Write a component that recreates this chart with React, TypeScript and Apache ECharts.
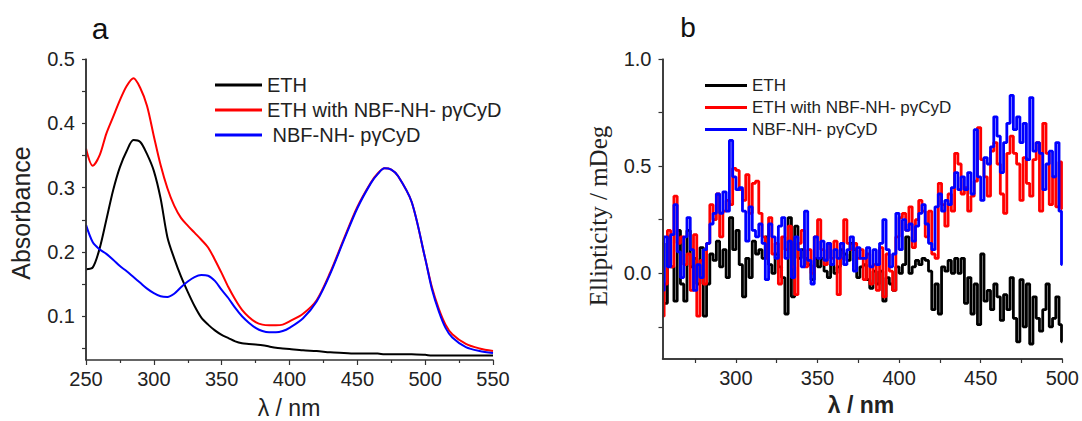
import React, { useEffect, useRef } from "react";
import * as echarts from "echarts";

// ---------- Panel a: absorbance spectra ----------
const wlA = [250, 255, 260, 265, 270, 275, 280, 285, 290, 295, 300, 305, 310, 315, 320, 325, 330, 335, 340, 345, 350, 355, 360, 365, 370, 375, 380, 385, 390, 395, 400, 410, 420, 430, 440, 450, 460, 465, 470, 475, 480, 490, 500, 505, 510, 515, 520, 530, 540, 550];
const ethA = [0.173, 0.176, 0.205, 0.25, 0.296, 0.332, 0.357, 0.374, 0.371, 0.352, 0.326, 0.283, 0.223, 0.19, 0.162, 0.138, 0.116, 0.098, 0.087, 0.078, 0.071, 0.066, 0.061, 0.058, 0.057, 0.056, 0.055, 0.053, 0.051, 0.05, 0.049, 0.047, 0.046, 0.044, 0.043, 0.042, 0.042, 0.042, 0.041, 0.041, 0.041, 0.041, 0.04, 0.039, 0.039, 0.039, 0.039, 0.039, 0.039, 0.039];
const ethWithA = [0.361, 0.334, 0.35, 0.384, 0.41, 0.436, 0.458, 0.47, 0.455, 0.427, 0.38, 0.335, 0.299, 0.272, 0.253, 0.241, 0.23, 0.219, 0.207, 0.188, 0.167, 0.145, 0.126, 0.11, 0.099, 0.091, 0.087, 0.086, 0.086, 0.087, 0.092, 0.104, 0.125, 0.168, 0.22, 0.27, 0.308, 0.322, 0.33, 0.328, 0.318, 0.278, 0.19, 0.145, 0.112, 0.087, 0.072, 0.057, 0.05, 0.046];
const nbfA = [0.242, 0.215, 0.204, 0.197, 0.188, 0.178, 0.17, 0.161, 0.152, 0.143, 0.136, 0.131, 0.13, 0.135, 0.145, 0.154, 0.161, 0.164, 0.163, 0.155, 0.141, 0.128, 0.113, 0.1, 0.09, 0.082, 0.077, 0.075, 0.075, 0.077, 0.082, 0.097, 0.123, 0.166, 0.218, 0.268, 0.307, 0.321, 0.33, 0.328, 0.318, 0.278, 0.19, 0.142, 0.108, 0.082, 0.067, 0.052, 0.046, 0.043];

// ---------- Panel b: CD spectra ----------
const wlB = [
  255, 257, 259, 261, 263, 265, 267, 269, 271, 273, 275, 277, 279, 281, 283, 285, 287, 289, 291, 293, 295, 297, 299, 301, 303, 305, 307, 309, 311, 313, 315,
  317, 319, 321, 323, 325, 327, 329, 331, 333, 335, 337, 339, 341, 343, 345, 347, 349, 351, 353, 355, 357, 359, 361, 363, 365, 367, 369, 371, 373, 375, 377,
  379, 381, 383, 385, 387, 389, 391, 393, 395, 397, 399, 401, 403, 405, 407, 409, 411, 413, 415, 417, 419, 421, 423, 425, 427, 429, 431, 433, 435, 437, 439,
  441, 443, 445, 447, 449, 451, 453, 455, 457, 459, 461, 463, 465, 467, 469, 471, 473, 475, 477, 479, 481, 483, 485, 487, 489, 491, 493, 495, 497, 499, 500,
];
const ethB = [
  0.14, -0.14, 0.17, 0.03, -0.13, 0.2, -0.05, -0.13, 0.2, 0.03, 0.07, -0.05, 0.12, -0.2, -0.05, 0.09, 0.06, 0.15, 0.03, 0.11, -0.02, 0.26, 0.11, 0.2, 0.04, -0.11, 0.07, -0.02, 0.15, 0.09, 0.11,
  0.07, 0.17, 0.04, 0.0, 0.09, 0.03, -0.02, -0.19, 0.26, -0.11, 0.22, 0.07, 0.11, 0.07, 0.04, -0.03, 0.07, 0.03, 0.07, 0.01, -0.02, 0.04, 0.0, 0.03, 0.11, 0.09, 0.06, 0.14, 0.11, -0.02, 0.03,
  0.04, -0.03, -0.07, 0.01, -0.05, 0.01, -0.13, -0.02, -0.05, -0.08, 0.03, 0.0, 0.04, 0.17, 0.0, 0.03, 0.06, 0.04, 0.07, 0.06, 0.01, -0.17, -0.05, -0.19, 0.03, 0.01, 0.06, 0.0, 0.07, 0.0, 0.07,
  -0.14, -0.02, -0.19, -0.05, -0.24, 0.09, -0.13, -0.08, -0.17, -0.05, -0.11, -0.22, -0.1, -0.17, -0.02, -0.21, -0.32, -0.03, -0.25, -0.05, -0.33, -0.11, -0.21, -0.27, -0.17, -0.05, -0.25, -0.21, -0.11, -0.24, -0.32,
];
const ethWithB = [
  -0.2, -0.05, 0.2, 0.03, 0.36, 0.14, 0.17, 0.04, 0.09, -0.08, 0.18, -0.2, 0.06, -0.05, 0.14, 0.32, 0.25, 0.37, 0.17, 0.29, 0.34, 0.32, 0.49, 0.48, 0.39, 0.34, 0.46, 0.28, 0.42, 0.43, 0.28,
  0.17, 0.07, 0.26, 0.09, 0.14, -0.05, 0.17, 0.11, 0.22, 0.03, -0.1, 0.14, 0.2, 0.03, 0.11, 0.0, 0.17, 0.25, 0.11, 0.04, 0.14, 0.07, 0.15, -0.1, 0.07, 0.25, 0.14, 0.11, 0.14, 0.07, 0.11,
  -0.03, 0.09, -0.05, 0.04, -0.08, 0.12, -0.11, 0.09, 0.01, -0.08, 0.17, 0.26, 0.28, 0.2, 0.31, 0.12, 0.25, 0.34, 0.29, 0.17, 0.29, 0.09, 0.07, 0.42, 0.32, 0.22, 0.37, 0.29, 0.56, 0.51, 0.37,
  0.4, 0.29, 0.36, 0.43, 0.68, 0.53, 0.45, 0.36, 0.57, 0.61, 0.51, 0.37, 0.28, 0.56, 0.64, 0.56, 0.51, 0.34, 0.54, 0.42, 0.36, 0.53, 0.61, 0.29, 0.7, 0.56, 0.32, 0.45, 0.31, 0.52, 0.3,
];
const nbfB = [
  -0.08, 0.17, 0.03, 0.18, 0.32, 0.1, -0.02, 0.17, 0.26, 0.11, -0.08, 0.04, -0.02, 0.11, 0.14, 0.23, 0.28, 0.37, 0.28, 0.38, 0.29, 0.62, 0.45, 0.39, 0.4, 0.29, 0.15, 0.31, 0.2, 0.17, 0.23,
  0.14, -0.03, 0.23, 0.17, 0.07, 0.22, 0.26, 0.07, 0.15, -0.02, 0.17, 0.11, 0.03, 0.29, 0.06, -0.05, 0.17, 0.07, 0.15, 0.06, 0.14, 0.04, 0.11, 0.07, 0.14, 0.04, 0.11, 0.17, 0.01, 0.12, 0.07,
  0.07, 0.12, 0.03, 0.11, 0.04, 0.14, 0.25, 0.11, 0.03, 0.09, 0.28, 0.11, 0.25, 0.2, 0.23, 0.15, 0.22, 0.28, 0.32, 0.23, 0.14, 0.11, 0.31, 0.37, 0.29, 0.34, 0.32, 0.4, 0.47, 0.39, 0.45,
  0.39, 0.47, 0.37, 0.67, 0.45, 0.34, 0.54, 0.51, 0.59, 0.73, 0.64, 0.47, 0.61, 0.7, 0.83, 0.67, 0.73, 0.61, 0.7, 0.53, 0.82, 0.57, 0.61, 0.56, 0.39, 0.51, 0.57, 0.45, 0.61, 0.29, 0.04,
];

// axis ranges and tick values
const aXRange = [250, 550];
const aYRange = [0.032, 0.5];
const bXRange = [255, 500];
const bYRange = [-0.4, 1.0];
const aLabelY = [0.1, 0.2, 0.3, 0.4, 0.5];
const aTickY = [0.05, 0.1, 0.15, 0.2, 0.25, 0.3, 0.35, 0.4, 0.45, 0.5];
const bLabelX = [300, 350, 400, 450, 500];
const bTickX = [275, 300, 325, 350, 375, 400, 425, 450, 475, 500];
const bLabelY = [0, 0.5, 1.0];
const bTickY = [-0.25, 0, 0.25, 0.5, 0.75, 1.0];

const NAME_ETH = "ETH";
const NAME_WITH = "ETH with NBF-NH- p\u03b3CyD";
const NAME_NBF_A = " NBF-NH- p\u03b3CyD";
const NAME_NBF_B = "NBF-NH- p\u03b3CyD";

const zip = (xs: number[], ys: number[]) => xs.map((x, i) => [x, ys[i]]);

const SANS = "Liberation Sans, Arial, sans-serif";
const SERIF = "Liberation Serif, Times New Roman, serif";
const TXT = "#222";
const AX = "#333333";

export default function App() {
  const ref = useRef<HTMLDivElement>(null);
  useEffect(() => {
    if (!ref.current) return;
    const chart = echarts.init(ref.current, undefined, { renderer: "svg" });
    const mkLine = () => ({ show: true, onZero: false, lineStyle: { color: AX, width: 1.5 } });
    const mkTick = (length: number, customValues?: number[]) => ({ show: true, length, ...(customValues ? { customValues } : {}), lineStyle: { color: AX, width: 1.2 } });
    const label = () => ({ color: TXT, fontSize: 20, fontFamily: SANS });
    const fmt1 = (v: number) => v.toFixed(1);
    // axis frame (left + bottom) drawn through the scales as a fallback
    const frame = (xMin: number, yMin: number) => ({
      silent: true,
      symbol: "none",
      label: { show: false },
      lineStyle: { color: AX, width: 1.5, type: "solid" },
      emphasis: { disabled: true },
      data: [{ xAxis: xMin }, { yAxis: yMin }],
    });
    const lineSeries = (name: string, data: number[][], color: string, xi: number, yi: number, width: number, step?: any, markLine?: any) => ({
      type: "line",
      name,
      data,
      xAxisIndex: xi,
      yAxisIndex: yi,
      showSymbol: false,
      symbol: "none",
      smooth: step ? false : 0.3,
      step: step || false,
      clip: false,
      color,
      lineStyle: { color, width },
      itemStyle: { color },
      ...(markLine ? { markLine } : {}),
    });
    chart.setOption({
      animation: false,
      grid: [
        { left: 86, top: 59, width: 407, height: 301 },
        { left: 662.5, top: 59, width: 402.5, height: 300 },
      ],
      xAxis: [
        {
          gridIndex: 0, type: "value", min: aXRange[0], max: aXRange[1], interval: 50, z: 10,
          axisLine: mkLine(), axisTick: mkTick(5),
          minorTick: { show: true, splitNumber: 2, length: 3, lineStyle: { color: AX, width: 1.2 } },
          splitLine: { show: false }, minorSplitLine: { show: false },
          axisLabel: { ...label(), margin: 9 },
        },
        {
          gridIndex: 1, type: "value", min: bXRange[0], max: bXRange[1], z: 10,
          axisLine: mkLine(), axisTick: mkTick(4, bTickX),
          splitLine: { show: false },
          axisLabel: { ...label(), margin: 9, customValues: bLabelX },
        },
      ],
      yAxis: [
        {
          gridIndex: 0, type: "value", min: aYRange[0], max: aYRange[1], z: 10,
          axisLine: mkLine(), axisTick: mkTick(4, aTickY),
          splitLine: { show: false },
          axisLabel: { ...label(), margin: 11, customValues: aLabelY, formatter: fmt1 },
        },
        {
          gridIndex: 1, type: "value", min: bYRange[0], max: bYRange[1], z: 10,
          axisLine: mkLine(), axisTick: mkTick(4, bTickY),
          splitLine: { show: false },
          axisLabel: { ...label(), margin: 11, customValues: bLabelY, formatter: fmt1 },
        },
      ],
      legend: [
        {
          orient: "vertical", left: 210, top: 70, itemWidth: 47, itemHeight: 3, itemGap: 5,
          icon: "rect", selectedMode: false,
          data: [NAME_ETH, NAME_WITH, NAME_NBF_A],
          textStyle: { color: TXT, fontSize: 20, fontFamily: SANS },
        },
        {
          orient: "vertical", left: 700, top: 72, itemWidth: 42, itemHeight: 3, itemGap: 5,
          icon: "rect", selectedMode: false,
          data: [NAME_ETH, NAME_WITH, NAME_NBF_B],
          textStyle: { color: TXT, fontSize: 17, fontFamily: SANS },
        },
      ],
      series: [
        lineSeries(NAME_ETH, zip(wlA, ethA), "#000000", 0, 0, 2, undefined, frame(aXRange[0], aYRange[0])),
        lineSeries(NAME_WITH, zip(wlA, ethWithA), "#ff0000", 0, 0, 2),
        lineSeries(NAME_NBF_A, zip(wlA, nbfA), "#0000ff", 0, 0, 2),
        lineSeries(NAME_ETH, zip(wlB, ethB), "#000000", 1, 1, 2.8, "middle", frame(bXRange[0], bYRange[0])),
        lineSeries(NAME_WITH, zip(wlB, ethWithB), "#ff0000", 1, 1, 2.8, "middle"),
        lineSeries(NAME_NBF_B, zip(wlB, nbfB), "#0000ff", 1, 1, 2.8, "middle"),
      ],
      graphic: [
        { type: "text", x: 100, y: 28, style: { text: "a", fontSize: 30, fontFamily: SANS, fill: "#111", align: "center", verticalAlign: "middle" } },
        { type: "text", x: 688, y: 27, style: { text: "b", fontSize: 28, fontFamily: SANS, fill: "#111", align: "center", verticalAlign: "middle" } },
        { type: "text", x: 21, y: 213, rotation: Math.PI / 2, style: { text: "Absorbance", fontSize: 25, fontFamily: SANS, fill: TXT, align: "center", verticalAlign: "middle" } },
        { type: "text", x: 598, y: 216, rotation: Math.PI / 2, style: { text: "Ellipticity / mDeg", fontSize: 25, fontFamily: SERIF, fill: TXT, align: "center", verticalAlign: "middle" } },
        { type: "text", x: 289, y: 408, style: { text: "\u03bb / nm", fontSize: 23, fontFamily: SANS, fill: TXT, align: "center", verticalAlign: "middle" } },
        { type: "text", x: 861, y: 405, style: { text: "\u03bb / nm", fontSize: 23, fontWeight: "bold", fontFamily: SANS, fill: TXT, align: "center", verticalAlign: "middle" } },
      ],
    });
    return () => chart.dispose();
  }, []);
  return <div ref={ref} style={{ position: "fixed", left: 0, top: 0, width: 1082, height: 421, background: "#fff" }} />;
}
